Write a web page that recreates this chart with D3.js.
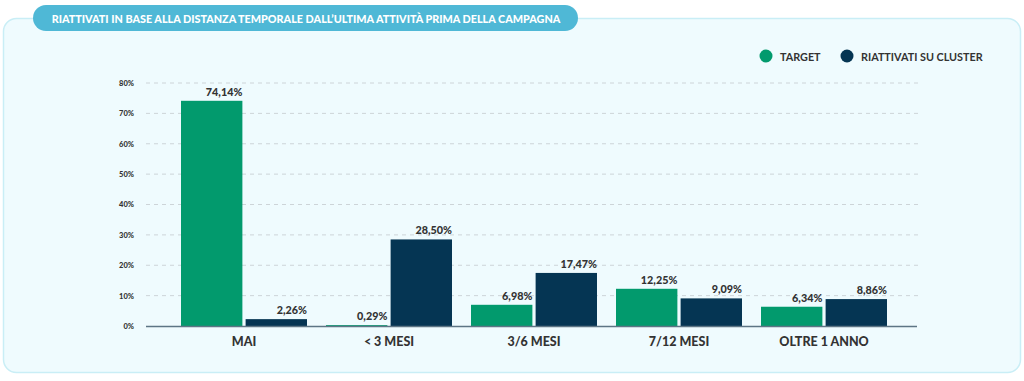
<!DOCTYPE html>
<html><head><meta charset="utf-8">
<script src="https://cdn.jsdelivr.net/npm/d3@7/dist/d3.min.js"></script>
<style>body{margin:0;background:#fff;}svg{display:block;font-family:Lato,"Open Sans",sans-serif;}</style>
</head><body>
<svg id="c" width="1024" height="381"></svg>
<script>
const categories = ["MAI", "< 3 MESI", "3/6 MESI", "7/12 MESI", "OLTRE 1 ANNO"];
const seriesNames = ["TARGET", "RIATTIVATI SU CLUSTER"];
const target = [74.14, 0.29, 6.98, 12.25, 6.34];
const cluster = [2.26, 28.50, 17.47, 9.09, 8.86];
const yTicks = [0, 10, 20, 30, 40, 50, 60, 70, 80];
const title = "RIATTIVATI IN BASE ALLA DISTANZA TEMPORALE DALL’ULTIMA ATTIVITÀ PRIMA DELLA CAMPAGNA";
const colors = ["#029a6d", "#053553"];

const svg = d3.select("#c");
// panel
svg.append("rect").attr("x",3.5).attr("y",18.5).attr("width",1017).attr("height",354)
  .attr("rx",13).attr("fill","#effbfe").attr("stroke","#c9eef6").attr("stroke-width",1.5);
// title pill
svg.append("rect").attr("x",33).attr("y",5).attr("width",545).attr("height",26).attr("rx",13)
  .attr("fill","#4fb8d6");
svg.append("text").attr("x",306).attr("y",18).attr("text-anchor","middle").attr("dominant-baseline","central")
  .attr("fill","#fff").attr("font-size",10.8).attr("font-weight",900).text(title);

const y = d3.scaleLinear().domain([0,80]).range([326,83]);
const x0 = d3.scaleBand().domain(categories).range([171.5,896.5]).paddingInner(0).paddingOuter(0);
const x1 = d3.scaleBand().domain(seriesNames).range([9.5,135.5]).paddingInner(0.05);

// grid
svg.append("g").selectAll("line").data(yTicks.filter(d=>d>0)).join("line")
  .attr("x1",146).attr("x2",918).attr("y1",d=>y(d)).attr("y2",d=>y(d))
  .attr("stroke","#cdd4d8").attr("stroke-dasharray","4,4").attr("stroke-width",1);
// y axis labels
const yAxis = d3.axisLeft(y).tickValues(yTicks).tickSize(0).tickPadding(0).tickFormat(d=>d+"%");
const ya = svg.append("g").attr("transform","translate(134,0)").call(yAxis);
ya.select(".domain").remove();
ya.selectAll("text").attr("font-size",7.5).attr("font-weight",900).attr("fill","#333").attr("font-family","Lato, sans-serif");

// bars
const data = categories.map((c,i)=>({c, vals:[{s:seriesNames[0],v:target[i],col:colors[0]},{s:seriesNames[1],v:cluster[i],col:colors[1]}]}));
const g = svg.append("g").selectAll("g").data(data).join("g").attr("transform",d=>`translate(${x0(d.c)},0)`);
g.selectAll("rect").data(d=>d.vals).join("rect")
  .attr("x",d=>x1(d.s)).attr("width",x1.bandwidth())
  .attr("y",d=>y(d.v)).attr("height",d=>y(0)-y(d.v)).attr("fill",d=>d.col);
g.selectAll("text").data(d=>d.vals).join("text")
  .attr("x",d=>x1(d.s)+x1.bandwidth()).attr("y",d=>y(d.v)-5)
  .attr("text-anchor","end").attr("font-size",10.8).attr("font-weight",900).attr("fill","#333")
  .text(d=>d.v.toFixed(2).replace(".",",")+"%");

// baseline
svg.append("line").attr("x1",146).attr("x2",917).attr("y1",y(0)+0.5).attr("y2",y(0)+0.5)
  .attr("stroke","#5d7585").attr("stroke-width",1.5);
// x axis labels
const xAxis = d3.axisBottom(x0).tickSize(0).tickPadding(0);
const xa = svg.append("g").attr("transform","translate(0,337)").call(xAxis);
xa.select(".domain").remove();
xa.selectAll("text").attr("font-size",12.5).attr("font-weight",900).attr("fill","#333").attr("font-family","Lato, sans-serif");

// legend
const leg = [{n:seriesNames[0],cx:766,tx:780,col:colors[0]},{n:seriesNames[1],cx:847,tx:861,col:colors[1]}];
const lg = svg.append("g").selectAll("g").data(leg).join("g");
lg.append("circle").attr("cx",d=>d.cx).attr("cy",56).attr("r",6.5).attr("fill",d=>d.col);
lg.append("text").attr("x",d=>d.tx).attr("y",56).attr("dominant-baseline","central")
  .attr("font-size",10.8).attr("font-weight",700).attr("fill","#333").text(d=>d.n);
</script>
</body></html>
